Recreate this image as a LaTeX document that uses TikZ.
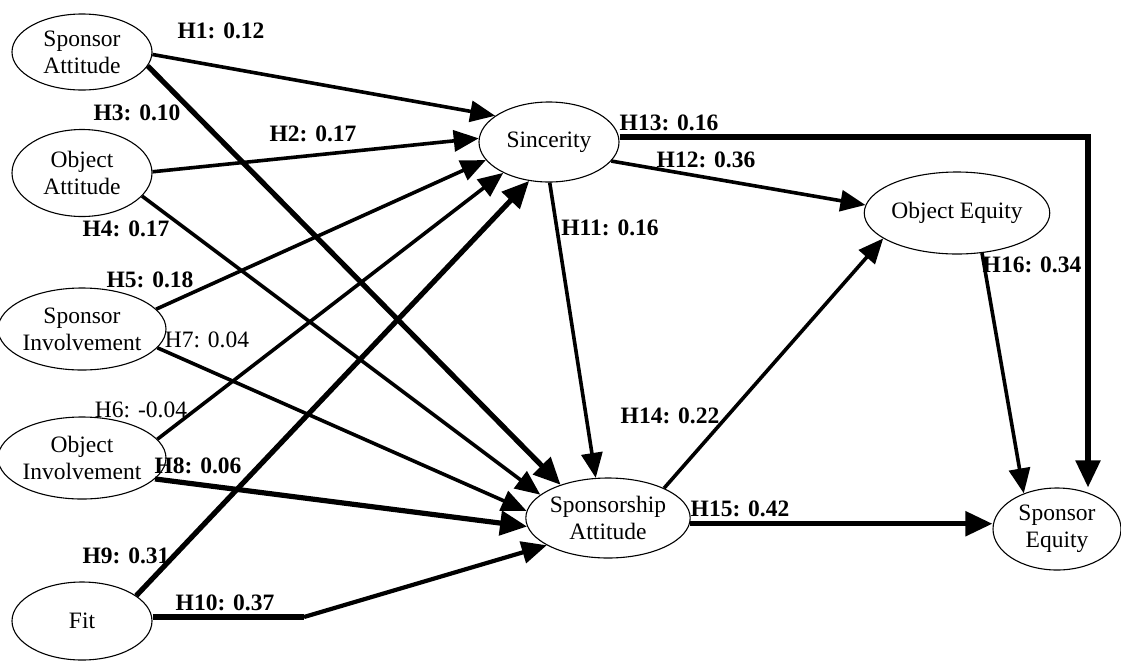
\documentclass[tikz,border=0pt]{standalone}
\usepackage{fontspec}
\setmainfont{Liberation Serif}
\usetikzlibrary{arrows.meta,shapes.geometric}
\begin{document}
\begin{tikzpicture}[x=1pt,y=-1pt,
  every node/.style={font=\fontsize{23.5}{27}\selectfont},
  var/.style={draw, ellipse, line width=1.1pt, inner sep=0pt, align=center},
  lab/.style={font=\fontsize{23.5}{27}\selectfont\bfseries, inner sep=0pt},
  labn/.style={font=\fontsize{23.5}{27}\selectfont, inner sep=0pt},
  med/.style={line width=3.6pt, -{Triangle[length=25pt,width=21pt]}},
  thk/.style={line width=5.2pt, -{Triangle[length=27pt,width=24pt]}},
  thkline/.style={line width=5.2pt},
]
\useasboundingbox (0,0) rectangle (1121,662);
% variables
\node[var, minimum width=140pt, minimum height=76pt] (SA) at (82,52) {Sponsor\\Attitude};
\node[var, minimum width=140pt, minimum height=87pt] (OA) at (82,173) {Object\\Attitude};
\node[var, minimum width=140pt, minimum height=82pt] (SI) at (82,329) {Sponsor\\Involvement};
\node[var, minimum width=140pt, minimum height=82pt] (OI) at (82,458) {Object\\Involvement};
\node[var, minimum width=140pt, minimum height=78pt] (Fit) at (82,621) {Fit};
\node[var, minimum width=140pt, minimum height=80pt] (Sin) at (549,142) {Sincerity};
\node[var, minimum width=136pt, minimum height=82pt] (OE) at (957,213) {Object Equity};
\node[var, minimum width=140pt, minimum height=80pt] (SpA) at (608,518) {Sponsorship\\Attitude};
\node[var, minimum width=128pt, minimum height=82pt] (SE) at (1057,529) {Sponsor\\Equity};
% helper coordinates
\coordinate (bend) at (304,617);
\coordinate (corner) at (1088,137);
% connectors
\draw[med] (SA.-2) -- (Sin.154);
\draw[med] (OA.1) -- (Sin.177);
\draw[med] (SI.15) -- (Sin.196);
\draw[med] (OI.14) -- (Sin.214);
\draw[thk] (Fit.25) -- (Sin.243);
\draw[thk] (SA.-12) -- (SpA.145);
\draw[med] (OA.-21) -- (SpA.161);
\draw[med] (SI.-14) -- (SpA.175);
\draw[thk] (OI.-16) -- (SpA.186);
\draw[thkline] (Fit.east |- bend) -- (bend);
\draw[line width=4.2pt, -{Triangle[length=25pt,width=22pt]}] (bend) -- (SpA.204);
\draw[med] (Sin.271) -- (SpA.107);
\draw[med] (Sin.-17) -- (OE.175);
\draw[thk] (Sin.east |- corner) -- (corner) -- (corner |- SE.north);
\draw[med] (SpA.28) -- (OE.199);
\draw[thk] (SpA.-4) -- (SpA.-4 -| SE.west);
\draw[med] (OE.-58) -- (SE.133);
% labels
\node[lab] (l1) at (221,31) {H1: 0.12};
\node[lab] (l2) at (313,134) {H2: 0.17};
\node[lab] (l3) at (137,113) {H3: 0.10};
\node[lab] (l4) at (126,229) {H4: 0.17};
\node[lab] (l5) at (150,280) {H5: 0.18};
\node[labn] (l6) at (141,410) {H6: -0.04};
\node[labn] (l7) at (207,340) {H7: 0.04};
\node[lab] (l8) at (198,466) {H8: 0.06};
\node[lab] (l9) at (126,556) {H9: 0.31};
\node[lab] (l10) at (225,603) {H10: 0.37};
\node[lab] (l11) at (610,228) {H11: 0.16};
\node[lab] (l12) at (706,160) {H12: 0.36};
\node[lab] (l13) at (669,123) {H13: 0.16};
\node[lab] (l14) at (670,416) {H14: 0.22};
\node[lab] (l15) at (740,509) {H15: 0.42};
\node[lab] (l16) at (1032,265) {H16: 0.34};
\end{tikzpicture}
\end{document}
